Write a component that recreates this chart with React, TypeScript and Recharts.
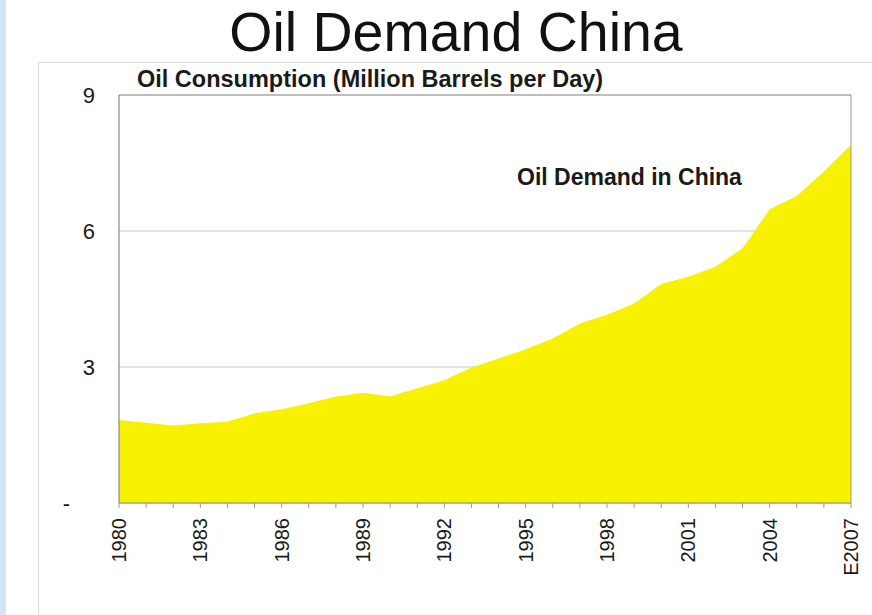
import React from 'react';
import { AreaChart, Area, XAxis, YAxis, CartesianGrid, ReferenceLine } from 'recharts';

const years = [
  '1980', '1981', '1982', '1983', '1984', '1985', '1986', '1987', '1988', '1989',
  '1990', '1991', '1992', '1993', '1994', '1995', '1996', '1997', '1998', '1999',
  '2000', '2001', '2002', '2003', '2004', '2005', '2006', 'E2007',
];
const demand = [
  1.83, 1.77, 1.71, 1.76, 1.79, 1.98, 2.07, 2.2, 2.35, 2.43,
  2.35, 2.53, 2.71, 2.99, 3.19, 3.39, 3.63, 3.96, 4.15, 4.4,
  4.83, 4.99, 5.21, 5.62, 6.48, 6.77, 7.31, 7.9,
];
const yTicks = [0, 3, 6, 9];
const yTickLabels = ['-', '3', '6', '9'];
const labelEvery = 3;

const title = 'Oil Demand China';
const subtitle = 'Oil Consumption (Million Barrels per Day)';
const annotation = 'Oil Demand in China';

const data = years.map((year, i) => ({ year, demand: demand[i] }));

const FONT = '"Liberation Sans", Arial, Helvetica, sans-serif';

const XTick = (props: any) => {
  const { x, y, payload, index } = props;
  if (index % labelEvery !== 0) return null;
  return (
    <g transform={`translate(${x},${y + 8})`}>
      <text
        transform="rotate(-90)"
        textAnchor="end"
        dy="0.35em"
        fontSize={20}
        fontFamily={FONT}
        fill="#1a1a1a"
      >
        {payload.value}
      </text>
    </g>
  );
};

const YTick = (props: any) => {
  const { y, payload } = props;
  const idx = yTicks.indexOf(payload.value);
  const label = yTickLabels[idx];
  if (payload.value === 0) {
    return (
      <text x={66.5} y={y} dy="0.35em" textAnchor="middle" fontSize={22} fontFamily={FONT} fill="#1a1a1a">
        {label}
      </text>
    );
  }
  return (
    <text x={95} y={y} dy="0.35em" textAnchor="end" fontSize={22} fontFamily={FONT} fill="#1a1a1a">
      {label}
    </text>
  );
};

export default function App() {
  return (
    <div style={{ position: 'absolute', left: 0, top: 0, width: 872, height: 615, background: '#fff', overflow: 'hidden' }}>
      <svg width={872} height={615} style={{ position: 'absolute', left: 0, top: 0 }}>
        <rect x={0} y={0} width={6} height={615} fill="#cfe7f7" />
        <line x1={38.5} y1={62.5} x2={38.5} y2={615} stroke="#dcdcdc" strokeWidth={1} />
        <line x1={38.5} y1={62.5} x2={872} y2={62.5} stroke="#dcdcdc" strokeWidth={1} />
      </svg>
      <div style={{ position: 'absolute', left: 0, top: 0 }}>
        <AreaChart width={872} height={615} data={data} margin={{ top: 95, right: 21, left: 0, bottom: 0 }}>
          <CartesianGrid horizontal={true} vertical={false} stroke="#c8c8c8" />
          <XAxis
            dataKey="year"
            interval={0}
            height={112}
            tickSize={5}
            axisLine={{ stroke: '#888' }}
            tickLine={{ stroke: '#999' }}
            tick={<XTick />}
          />
          <YAxis
            width={119}
            domain={[0, 9]}
            ticks={yTicks}
            axisLine={{ stroke: '#777' }}
            tickLine={false}
            tick={<YTick />}
          />
          <Area
            type="linear"
            dataKey="demand"
            fill="#f8f200"
            fillOpacity={1}
            stroke="none"
            isAnimationActive={false}
          />
          <ReferenceLine y={9} stroke="#999" />
          <ReferenceLine x="E2007" stroke="#999" />
        </AreaChart>
      </div>
      <svg width={872} height={615} style={{ position: 'absolute', left: 0, top: 0, pointerEvents: 'none' }}>
        <text x={456} y={51} textAnchor="middle" fontSize={55.5} fontFamily={FONT} fill="#111">
          {title}
        </text>
        <text x={137} y={87} fontSize={23.5} fontWeight="bold" fontFamily={FONT} fill="#1a1a1a">
          {subtitle}
        </text>
        <text x={517} y={185} fontSize={23} fontWeight="bold" fontFamily={FONT} fill="#1a1a1a">
          {annotation}
        </text>
      </svg>
    </div>
  );
}
